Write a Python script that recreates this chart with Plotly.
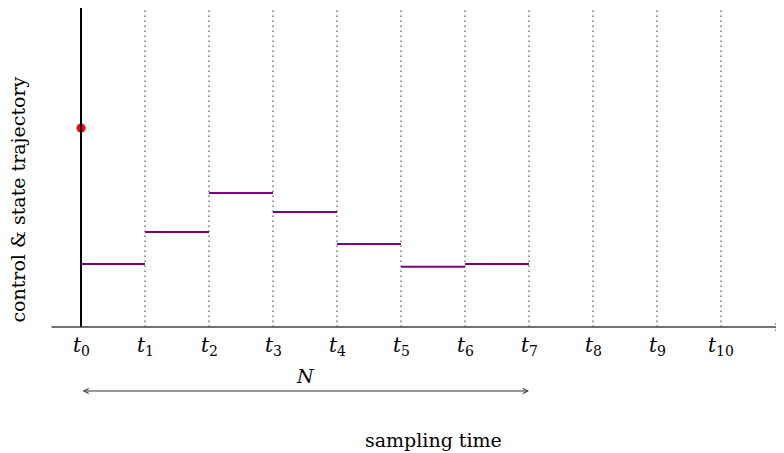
import plotly.graph_objects as go

# data
time_index = [0, 1, 2, 3, 4, 5, 6, 7, 8, 9, 10]
tick_labels = [f"<i>t</i><sub>{k}</sub>" for k in time_index]
control_values = [1.97, 2.97, 4.19, 3.59, 2.59, 1.88, 1.97]  # piecewise constant over [t_k, t_k+1]
initial_state = 6.22
horizon_N = 7
y_top = 9.97

# axis ranges (page has an 8px body offset)
X_MIN, X_MAX = (8 - 81) / 64, (784 - 81) / 64
Y_MIN, Y_MAX = (327 - 453) / 32, (327 - 8) / 32

serif = "DejaVu Serif"

fig = go.Figure()

# dotted grid lines at t1..t10
for k in time_index[1:]:
    fig.add_shape(type="line", x0=k, x1=k, y0=0, y1=y_top,
                  line=dict(color="#333333", width=1, dash="1.5px,3.5px"), layer="below")

# x axis line with arrow
fig.add_annotation(x=X_MAX - 0.01, y=0, ax=-0.484, ay=0, xref="x", yref="y", axref="x", ayref="y",
                   showarrow=True, arrowhead=5, arrowsize=1, arrowwidth=1.3,
                   arrowcolor="#444444", text="")
# y axis line
fig.add_shape(type="line", x0=0, x1=0, y0=0, y1=y_top, line=dict(color="black", width=2))

# control segments
xs, ys = [], []
for k, v in enumerate(control_values):
    xs += [time_index[k], time_index[k + 1], None]
    ys += [v, v, None]
fig.add_trace(go.Scatter(x=xs, y=ys, mode="lines", line=dict(color="#800080", width=2),
                         hoverinfo="skip"))

# initial state
fig.add_trace(go.Scatter(x=[0], y=[initial_state], mode="markers",
                         marker=dict(color="red", size=9), hoverinfo="skip"))

# tick labels
for k, lab in zip(time_index, tick_labels):
    fig.add_annotation(x=k, y=-0.6, text=lab, showarrow=False,
                       font=dict(family=serif, size=20, color="black"))

# horizon arrow
fig.add_annotation(x=horizon_N, y=-2.0, ax=0, ay=-2.0, xref="x", yref="y", axref="x", ayref="y",
                   showarrow=True, arrowhead=5, startarrowhead=5, arrowside="end+start",
                   arrowsize=1, startarrowsize=1, arrowwidth=1, arrowcolor="#333333", text="")
fig.add_annotation(x=horizon_N / 2, y=-1.53, text="<i>N</i>", showarrow=False,
                   font=dict(family=serif, size=19, color="black"))

# axis titles
fig.add_annotation(x=5.5, y=-3.53, text="sampling time", showarrow=False,
                   font=dict(family=serif, size=19, color="black"))
fig.add_annotation(x=-0.99, y=3.97, text="control &amp; state trajectory", showarrow=False,
                   textangle=-90, font=dict(family=serif, size=19, color="black"))

fig.update_xaxes(range=[X_MIN, X_MAX], visible=False, fixedrange=True)
fig.update_yaxes(range=[Y_MIN, Y_MAX], visible=False, fixedrange=True)
fig.update_layout(width=776, height=445, margin=dict(l=0, r=0, t=0, b=0),
                  plot_bgcolor="white", paper_bgcolor="white", showlegend=False)

fig.write_html("out.html")
